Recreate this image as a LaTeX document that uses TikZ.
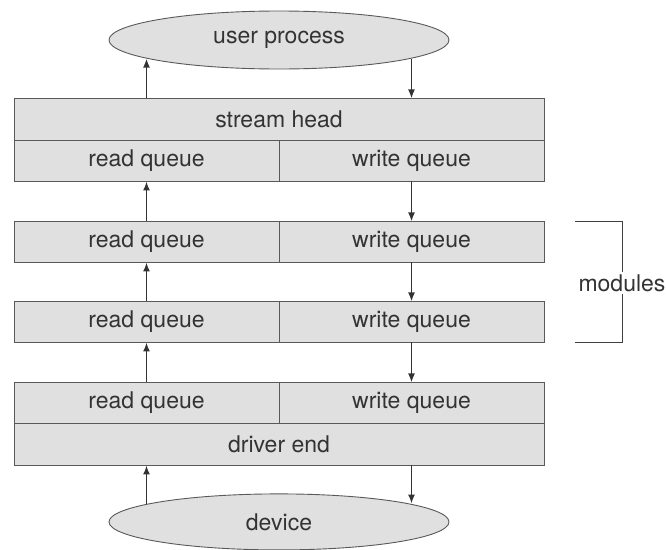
\documentclass[tikz,border=0pt]{standalone}
\usepackage{fontspec}
\setmainfont{TeX Gyre Heros}
\usetikzlibrary{arrows.meta,positioning,shapes.geometric}
\tikzset{
  queue/.style={draw=black!65, fill=black!12, line width=0.9pt, minimum width=265pt, minimum height=41pt, inner sep=0pt, outer sep=0pt, text=black!80, font=\fontsize{23}{26}\selectfont},
  widequeue/.style={queue, minimum width=530pt, minimum height=42pt},
  blob/.style={ellipse, draw=black!65, fill=black!12, line width=0.9pt, minimum width=340pt, minimum height=58pt, inner sep=0pt, text=black!80, font=\fontsize{23}{26}\selectfont},
  arrow/.style={-{Latex[length=9pt,width=7pt]}, line width=1.6pt, draw=black!80},
  bracket/.style={line width=0.9pt, draw=black!75}
}
\begin{document}
\begin{tikzpicture}[x=1pt, y=-1pt]
\useasboundingbox (0,0) rectangle (666,549);
\node[blob] (user) at (279,40) {user process};
\node[widequeue, below=29pt of user] (head) {stream head};
\node[queue, anchor=north west] (rq0) at (head.south west) {read queue};
\node[queue, right=0pt of rq0] (wq0) {write queue};
\node[queue, below=40pt of rq0] (rq1) {read queue};
\node[queue, right=0pt of rq1] (wq1) {write queue};
\node[queue, below=39pt of rq1] (rq2) {read queue};
\node[queue, right=0pt of rq2] (wq2) {write queue};
\node[queue, below=40pt of rq2] (rq3) {read queue};
\node[queue, right=0pt of rq3] (wq3) {write queue};
\node[widequeue, anchor=north west] (drv) at (rq3.south west) {driver end};
\node[blob, below=28pt of drv, minimum height=56pt] (dev) {device};
\node[inner sep=2pt, text=black!80, font=\fontsize{23}{26}\selectfont] (mods) at (622,283) {modules};
\draw[arrow] (rq0 |- head.north) -- (rq0 |- user.188);
\draw[arrow] (wq0 |- user.352) -- (wq0 |- head.north);
\draw[arrow] (rq1) -- (rq0);
\draw[arrow] (wq0) -- (wq1);
\draw[arrow] (rq2) -- (rq1);
\draw[arrow] (wq1) -- (wq2);
\draw[arrow] (rq3) -- (rq2);
\draw[arrow] (wq2) -- (wq3);
\draw[arrow] (rq3 |- dev.172) -- (rq3 |- drv.south);
\draw[arrow] (wq3 |- drv.south) -- (wq3 |- dev.8);
\draw[bracket] (mods.north) -- (mods.north |- wq1.north) -- ++(-47,0);
\draw[bracket] (mods.south) -- (mods.south |- wq2.south) -- ++(-47,0);
\end{tikzpicture}
\end{document}
